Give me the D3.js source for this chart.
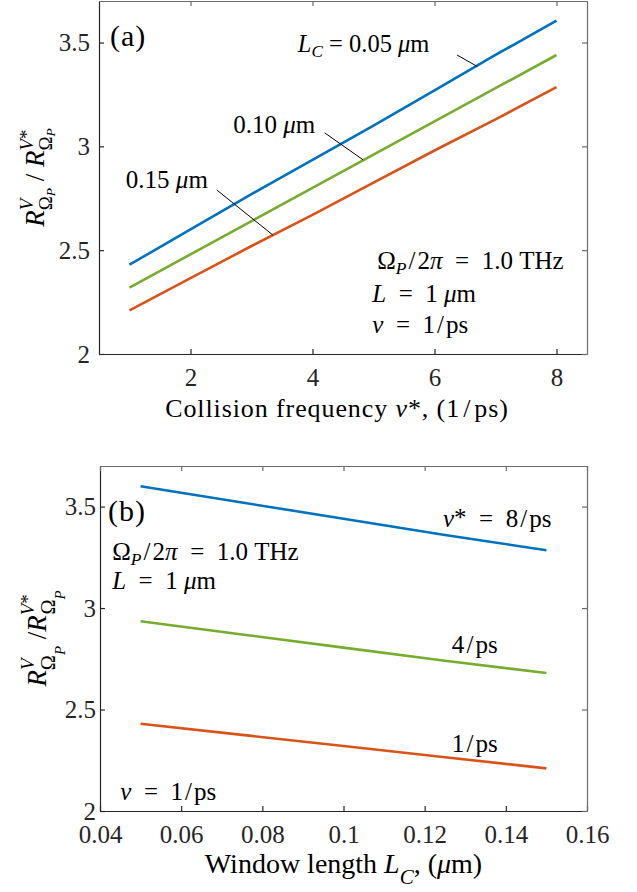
<!DOCTYPE html>
<html>
<head>
<meta charset="utf-8">
<script src="https://cdn.jsdelivr.net/npm/d3@7"></script>
<style>
  body { margin: 0; background: #fff; }
  text { font-family: 'Liberation Serif', 'Times New Roman', serif; fill: #000; white-space: pre; }
</style>
</head>
<body>
<div class="container"></div>
<script>
// panel (a): ratio vs collision frequency, one line per window length
const nuStar = [1, 2, 3, 4, 5, 6, 7, 8];
const rLc005 = [2.43, 2.60, 2.77, 2.935, 3.10, 3.27, 3.44, 3.605];
const rLc010 = [2.32, 2.48, 2.64, 2.80, 2.96, 3.12, 3.28, 3.44];
const rLc015 = [2.21, 2.365, 2.52, 2.67, 2.825, 2.98, 3.13, 3.285];

// panel (b): ratio vs window length, one line per collision frequency
const windowLc = [0.05, 0.075, 0.10, 0.125, 0.15];
const rNu8 = [3.60, 3.52, 3.44, 3.36, 3.285];
const rNu4 = [2.935, 2.87, 2.805, 2.74, 2.68];
const rNu1 = [2.43, 2.375, 2.32, 2.265, 2.21];

const xTicksA = [2, 4, 6, 8];
const xTicksB = [0.04, 0.06, 0.08, 0.1, 0.12, 0.14, 0.16];
const yTicks = [2, 2.5, 3, 3.5];

const blue = '#0072BD';
const orange = '#D95319';
const green = '#77AC30';

const width = 637;
const height = 892;

const svg = d3
  .select('.container')
  .append('svg')
  .attr('width', width)
  .attr('height', height);

const EQ = '\u2002=\u2002';
const SL = '\u200A/\u200A';

// text with sub/superscripts; o = baseline offset (em), s = relative size
const rich = (sel, x, y, parts, size, anchor, spacing) => {
  const t = sel
    .append('text')
    .attr('x', x)
    .attr('y', y)
    .attr('font-size', size)
    .attr('letter-spacing', spacing || 0)
    .attr('text-anchor', anchor || 'start');
  let prev = 0;
  parts.forEach((p) => {
    const off = (p.o || 0) * size;
    t.append('tspan')
      .attr('dy', off - prev)
      .attr('dx', (p.dx || 0) * size)
      .attr('font-size', (p.s || 1) * size)
      .attr('font-style', p.i ? 'italic' : 'normal')
      .text(p.t);
    prev = off;
  });
  return t;
};

const drawFrame = (x, y, top, bottom, left, right, xTicks, xFmt, yPad) => {
  const g = svg.append('g');
  g.append('g')
    .attr('transform', `translate(0,${bottom})`)
    .call(d3.axisBottom(x).tickValues(xTicks).tickFormat(xFmt).tickSizeInner(-5).tickSizeOuter(0).tickPadding(14));
  g.append('g')
    .attr('transform', `translate(${left},0)`)
    .call(d3.axisLeft(y).tickValues(yTicks).tickFormat(d3.format('')).tickSizeInner(-5).tickSizeOuter(0).tickPadding(yPad));
  g.append('g')
    .attr('transform', `translate(0,${top})`)
    .attr('class', 'box')
    .call(d3.axisTop(x).tickValues(xTicks).tickFormat('').tickSizeInner(-5).tickSizeOuter(0));
  g.append('g')
    .attr('transform', `translate(${right},0)`)
    .attr('class', 'box')
    .call(d3.axisRight(y).tickValues(yTicks).tickFormat('').tickSizeInner(-5).tickSizeOuter(0));
  g.selectAll('.domain, .tick line').attr('stroke', '#262626').attr('stroke-width', 1.2);
  g.selectAll('.box .domain, .box .tick line').attr('stroke', '#6b6b6b');
  g.selectAll('.tick text')
    .style('font-family', "'Liberation Serif', serif")
    .style('font-size', '25px')
    .style('fill', '#262626');
  return g;
};

const drawLine = (x, y, xs, ys, color) => {
  svg
    .append('path')
    .datum(xs.map((d, i) => [d, ys[i]]))
    .attr('fill', 'none')
    .attr('stroke', color)
    .attr('stroke-width', 2.6)
    .attr('d', d3.line().x((d) => x(d[0])).y((d) => y(d[1])));
};

const leader = (x, y, a, b) => {
  svg
    .append('line')
    .attr('x1', x(a[0]))
    .attr('y1', y(a[1]))
    .attr('x2', x(b[0]))
    .attr('y2', y(b[1]))
    .attr('stroke', '#000')
    .attr('stroke-width', 1);
};

// ---------- panel (a)
const aTop = 1, aBottom = 354, aLeft = 99, aRight = 587;
const xA = d3.scaleLinear().domain([0.5, 8.5]).range([aLeft, aRight]);
const yA = d3.scaleLinear().domain([2, 3.7]).range([aBottom, aTop]);

drawFrame(xA, yA, aTop, aBottom, aLeft, aRight, xTicksA, d3.format('d'), 9);
drawLine(xA, yA, nuStar, rLc005, blue);
drawLine(xA, yA, nuStar, rLc010, green);
drawLine(xA, yA, nuStar, rLc015, orange);

leader(xA, yA, [6.37, 3.44], [6.7, 3.385]);
leader(xA, yA, [4.2, 3.065], [4.83, 2.935]);
leader(xA, yA, [2.43, 2.79], [3.35, 2.573]);

const fa = 25;
rich(svg, xA(0.68), yA(3.485), [{ t: '(a)' }], 30, 'start', 1);
rich(svg, xA(3.76), yA(3.455), [
  { t: 'L', i: 1 }, { t: 'C', i: 1, s: 0.7, o: 0.22 },
  { t: ' = 0.05 ' }, { t: 'μ', i: 1 }, { t: 'm' },
], 24.5);
rich(svg, xA(2.7), yA(3.065), [{ t: '0.10 ' }, { t: 'μ', i: 1 }, { t: 'm' }], fa);
rich(svg, xA(0.94), yA(2.8), [{ t: '0.15 ' }, { t: 'μ', i: 1 }, { t: 'm' }], fa);
rich(svg, xA(5.06), yA(2.41), [
  { t: 'Ω' }, { t: 'P', i: 1, s: 0.7, o: 0.22 },
  { t: SL + '2' }, { t: 'π', i: 1 }, { t: EQ + '1.0 THz' },
], fa);
rich(svg, xA(4.98), yA(2.25), [{ t: 'L', i: 1 }, { t: EQ + '1 ' }, { t: 'μ', i: 1 }, { t: 'm' }], fa);
rich(svg, xA(4.98), yA(2.1), [{ t: 'ν', i: 1 }, { t: EQ + '1' + SL + 'ps' }], fa);

rich(svg, (aLeft + aRight) / 2 - 6, 417, [
  { t: 'Collision frequency ' }, { t: 'ν', i: 1 }, { t: '*, (1' + SL + 'ps)' },
], 26, 'middle', 0.9);

rich(svg.append('g').attr('transform', `translate(44,${(aTop + aBottom) / 2}) rotate(-90)`), 0, 0, [
  { t: 'R', i: 1 }, { t: 'V', i: 1, s: 0.7, o: -0.42 },
  { t: 'Ω', s: 0.7, o: 0.3, dx: -0.43 }, { t: 'P', i: 1, s: 0.5, o: 0.4 },
  { t: ' / ' },
  { t: 'R', i: 1 }, { t: 'V', i: 1, s: 0.7, o: -0.42 }, { t: '*', s: 0.7, o: -0.42 },
  { t: 'Ω', s: 0.7, o: 0.3, dx: -0.78 }, { t: 'P', i: 1, s: 0.5, o: 0.4 },
], 27, 'middle');

// ---------- panel (b)
const bTop = 466, bBottom = 811, bLeft = 100, bRight = 587;
const xB = d3.scaleLinear().domain([0.04, 0.16]).range([bLeft, bRight]);
const yB = d3.scaleLinear().domain([2, 3.7]).range([bBottom, bTop]);

drawFrame(xB, yB, bTop, bBottom, bLeft, bRight, xTicksB, d3.format(''), 4);
drawLine(xB, yB, windowLc, rNu8, blue);
drawLine(xB, yB, windowLc, rNu4, green);
drawLine(xB, yB, windowLc, rNu1, orange);

rich(svg, xB(0.042), yB(3.43), [{ t: '(b)' }], 30, 'start', 1);
rich(svg, xB(0.043), yB(3.237), [
  { t: 'Ω' }, { t: 'P', i: 1, s: 0.7, o: 0.2 },
  { t: SL + '2' }, { t: 'π', i: 1 }, { t: EQ + '1.0 THz' },
], fa);
rich(svg, xB(0.043), yB(3.095), [{ t: 'L', i: 1 }, { t: EQ + '1 ' }, { t: 'μ', i: 1 }, { t: 'm' }], fa);
rich(svg, xB(0.1245), yB(3.399), [{ t: 'ν', i: 1 }, { t: '*', o: -0.05 }, { t: EQ + '8' + SL + 'ps', o: 0 }], fa);
rich(svg, xB(0.1267), yB(2.778), [{ t: '4' + SL + 'ps' }], fa);
rich(svg, xB(0.1267), yB(2.29), [{ t: '1' + SL + 'ps' }], fa);
rich(svg, xB(0.045), yB(2.054), [{ t: 'ν', i: 1 }, { t: EQ + '1' + SL + 'ps' }], fa);

rich(svg, (bLeft + bRight) / 2, 873, [
  { t: 'Window length ' }, { t: 'L', i: 1 }, { t: 'C', i: 1, s: 0.75, o: 0.4 },
  { t: ', (', o: 0 }, { t: 'μ', i: 1 }, { t: 'm)' },
], 28, 'middle');

rich(svg.append('g').attr('transform', `translate(46,${(bTop + bBottom) / 2}) rotate(-90)`), 0, 0, [
  { t: 'R', i: 1 }, { t: 'V', i: 1, s: 0.7, o: -0.45 },
  { t: 'Ω', s: 0.75, o: 0.35, dx: -0.43 }, { t: 'P', i: 1, s: 0.55, o: 0.7 },
  { t: ' /', o: 0 },
  { t: 'R', i: 1 }, { t: 'V', i: 1, s: 0.7, o: -0.45 }, { t: '*', s: 0.7, o: -0.45 },
  { t: 'Ω', s: 0.75, o: 0.35, dx: -0.75 }, { t: 'P', i: 1, s: 0.55, o: 0.7 },
], 27, 'middle');
</script>
</body>
</html>
